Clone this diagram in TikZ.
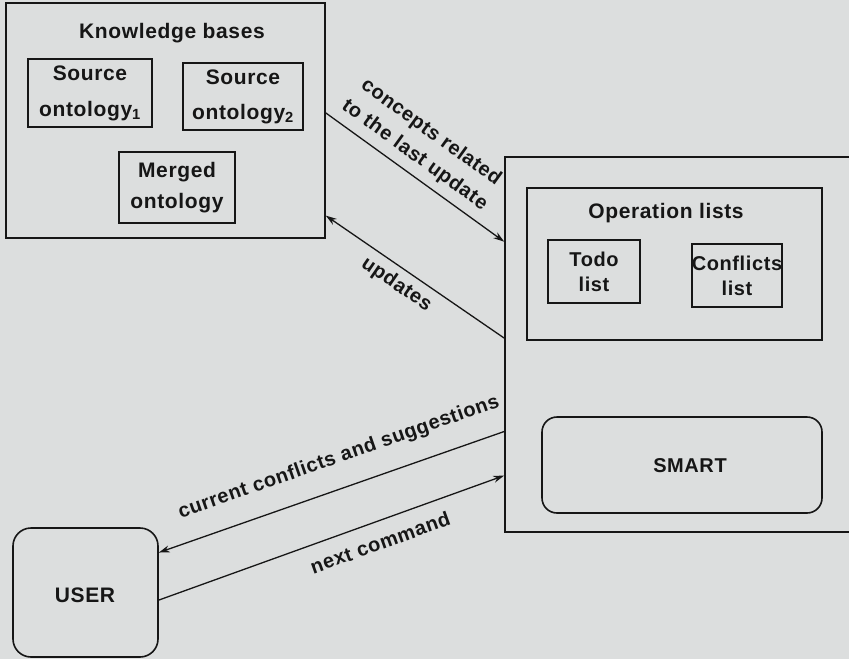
\documentclass[tikz,border=0pt]{standalone}
\usepackage{fontspec}
\setmainfont{Liberation Sans}[LetterSpace=3]
\usetikzlibrary{arrows.meta,calc}
\definecolor{bg}{RGB}{220,222,222}
\definecolor{ink}{RGB}{22,22,22}
\begin{document}
\begin{tikzpicture}[x=1pt,y=-1pt,
  box/.style={draw=ink, line width=1.6pt, inner sep=0pt, align=center, text=ink},
  rbox/.style={box, rounded corners=15pt},
  arr/.style={draw=ink, line width=1.3pt, -{Stealth[length=11pt,width=7pt]}},
  lbl/.style={font=\bfseries\fontsize{20}{28}\selectfont, sloped, inner sep=2pt, text=ink, align=center}]
\fill[bg] (0,0) rectangle (849,659);
\useasboundingbox (0,0) rectangle (849,659);

% knowledge bases
\node[box, minimum width=319pt, minimum height=235pt] (kb) at (165.5,120.5) {};
\node[anchor=base, text=ink, font=\bfseries\fontsize{21}{25}\selectfont] (kbt) at (172,38) {Knowledge bases};
\node[box, minimum width=124pt, minimum height=68pt, font=\bfseries\fontsize{21}{36}\selectfont] (so1) at (90,93) {Source\\ontology\textsubscript{1}};
\node[box, minimum width=120pt, minimum height=67pt, font=\bfseries\fontsize{21}{35}\selectfont] (so2) at (243,96.5) {Source\\ontology\textsubscript{2}};
\node[box, minimum width=116pt, minimum height=71pt, font=\bfseries\fontsize{21}{31}\selectfont] (mo) at (177,187.5) {Merged\\ontology};

% system box (extends beyond right edge)
\begin{scope}
\clip (0,0) rectangle (849,659);
\node[box, minimum width=375pt, minimum height=375pt] (sys) at (692.5,344.5) {};
\end{scope}
\node[box, minimum width=295pt, minimum height=152pt] (ops) at (674.5,264) {};
\node[anchor=base, text=ink, font=\bfseries\fontsize{21}{25}\selectfont] (opst) at (666,218) {Operation lists};
\node[box, minimum width=92pt, minimum height=63pt, font=\bfseries\fontsize{20}{25}\selectfont] (todo) at (594,271.5) {Todo\\list};
\node[box, minimum width=90pt, minimum height=63pt, font=\bfseries\fontsize{20}{25}\selectfont] (conf) at (737,275.5) {Conflicts\\list};
\node[rbox, minimum width=280pt, minimum height=96pt] (smart) at (682,465) {};
\node[text=ink, font=\bfseries\fontsize{20}{24}\selectfont] (smartt) at (690,466) {SMART};

% user
\node[rbox, minimum width=145pt, minimum height=129pt, rounded corners=18pt] (user) at (85.5,592.5) {};
\node[text=ink, font=\bfseries\fontsize{21}{25}\selectfont] (usert) at (85,595) {USER};

% connectors
\draw[arr] ($(kb.north east)!0.468!(kb.south east)$) --
  node[lbl, pos=0.44, above=5.5pt] (l1) {concepts related\\to the last update}
  ($(sys.north west)!0.227!(sys.south west)$);
\draw[arr] ($(sys.north west)!0.483!(sys.south west)$) --
  node[lbl, pos=0.55, below=5pt] (l2) {updates}
  ($(kb.north east)!0.902!(kb.south east)$);
\draw[arr] ($(sys.north west)!0.731!(sys.south west)$) --
  node[lbl, pos=0.45, above=18pt] (l3) {current conflicts and suggestions}
  ($(user.north east)!0.194!(user.south east)$);
\draw[arr] ($(user.north east)!0.558!(user.south east)$) --
  node[lbl, pos=0.62, below=11pt] (l4) {next command}
  ($(sys.north west)!0.848!(sys.south west)$);
\end{tikzpicture}
\end{document}
